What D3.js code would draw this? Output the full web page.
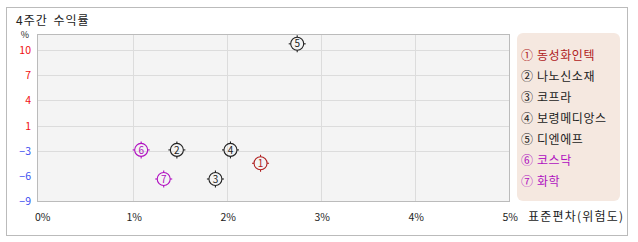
<!DOCTYPE html>
<html>
<head>
<meta charset="utf-8">
<script src="https://cdn.jsdelivr.net/npm/d3@7"></script>
<style>
  body { margin: 0; background: #fff; }
  text { font-family: "Noto Sans CJK KR", "Noto Sans", sans-serif; }
</style>
</head>
<body>
<div id="chart"></div>
<script>
const width = 638;
const height = 242;

// data
const names = ['동성화인텍', '나노신소재', '코프라', '보령메디앙스', '디엔에프', '코스닥', '화학'];
const marks = ['①', '②', '③', '④', '⑤', '⑥', '⑦'];
const risk = [2.36, 1.47, 1.88, 2.04, 2.75, 1.09, 1.33];
const returns = [-4.2, -2.5, -6.2, -2.5, 11.0, -2.5, -6.2];
const colors = ['#b02020', '#222', '#222', '#222', '#222', '#b010c0', '#b010c0'];

const xTicks = [0, 1, 2, 3, 4, 5];
const yTicks = [10.2, 7, 3.8, 0.6, -2.6, -5.8, -9];
const yTickLabels = ['10', '7', '4', '1', '−3', '−6', '−9'];
const yGrid = [10.2, 7, 3.8, 0.6, -2.6];

const svg = d3.select('#chart').append('svg')
    .attr('width', width)
    .attr('height', height);

// outer frame
svg.append('rect')
    .attr('x', 6.5).attr('y', 7.5)
    .attr('width', 621).attr('height', 228)
    .attr('fill', '#fff')
    .attr('stroke', '#bbb');

svg.append('text')
    .attr('x', 16).attr('y', 25)
    .attr('font-size', 12)
    .attr('letter-spacing', 1)
    .attr('word-spacing', 2)
    .attr('fill', '#222')
    .text('4주간 수익률');

const plot = {left: 37, right: 509, top: 34, bottom: 201};

const x = d3.scaleLinear().domain([0, 5]).range([38.7, 508.7]);
const y = d3.scaleLinear().domain([-9, 12.25]).range([201, 34]);

svg.append('rect')
    .attr('x', plot.left + 0.5).attr('y', plot.top + 0.5)
    .attr('width', plot.right - plot.left).attr('height', plot.bottom - plot.top)
    .attr('fill', '#f4f4f4');

svg.append('g').selectAll('line')
  .data(yGrid)
  .join('line')
    .attr('x1', plot.left).attr('x2', plot.right)
    .attr('y1', d => Math.round(y(d)) + 0.5)
    .attr('y2', d => Math.round(y(d)) + 0.5)
    .attr('stroke', '#dcdcdc');

svg.append('g').selectAll('line')
  .data(xTicks.slice(1, 5))
  .join('line')
    .attr('x1', d => Math.round(x(d)) + 0.5)
    .attr('x2', d => Math.round(x(d)) + 0.5)
    .attr('y1', plot.top).attr('y2', plot.bottom)
    .attr('stroke', '#dcdcdc');

svg.append('rect')
    .attr('x', plot.left + 0.5).attr('y', plot.top + 0.5)
    .attr('width', plot.right - plot.left).attr('height', plot.bottom - plot.top)
    .attr('fill', 'none')
    .attr('stroke', '#bbb');

// y labels
svg.append('text')
    .attr('x', 25).attr('y', 38)
    .attr('text-anchor', 'middle')
    .attr('font-size', 9)
    .attr('fill', '#222')
    .text('%');

svg.append('g').selectAll('text')
  .data(yTicks)
  .join('text')
    .attr('x', 31)
    .attr('y', d => y(d) + 4)
    .attr('text-anchor', 'end')
    .attr('font-size', 10.5)
    .attr('fill', (d, i) => yTickLabels[i].startsWith('−') ? '#4050f0' : '#f01010')
    .text((d, i) => yTickLabels[i]);

// x labels
svg.append('g').selectAll('text')
  .data(xTicks)
  .join('text')
    .attr('x', d => x(d) + (d === 0 ? 4 : 1.5))
    .attr('y', 221)
    .attr('text-anchor', 'middle')
    .attr('font-size', 10.5)
    .attr('fill', '#222')
    .text(d => d + '%');

svg.append('text')
    .attr('x', 528).attr('y', 221)
    .attr('font-size', 12)
    .attr('letter-spacing', 1.2)
    .attr('fill', '#222')
    .text('표준편차(위험도)');

// points
const pts = d3.range(names.length);
const pt = svg.append('g').selectAll('g')
  .data(pts)
  .join('g')
    .attr('transform', i => `translate(${x(risk[i])},${y(returns[i])})`);

pt.append('circle')
    .attr('r', 6.5)
    .attr('fill', 'none')
    .attr('stroke', i => colors[i])
    .attr('stroke-width', 1.1);

pt.selectAll('line')
  .data(i => [[0, -1, i], [0, 1, i], [-1, 0, i], [1, 0, i]])
  .join('line')
    .attr('x1', d => d[0] * 6.5).attr('y1', d => d[1] * 6.5)
    .attr('x2', d => d[0] * 8.5).attr('y2', d => d[1] * 8.5)
    .attr('stroke', d => colors[d[2]])
    .attr('stroke-width', 1.1);

pt.append('text')
    .attr('y', 3.6)
    .attr('text-anchor', 'middle')
    .attr('font-size', 10)
    .attr('fill', i => colors[i])
    .text(i => i + 1);

// legend
svg.append('rect')
    .attr('x', 517).attr('y', 33)
    .attr('width', 103).attr('height', 168)
    .attr('rx', 6)
    .attr('fill', '#f5e8e0');

svg.append('g').selectAll('text')
  .data(pts)
  .join('text')
    .attr('x', 521)
    .attr('y', i => 59.5 + i * 21.1)
    .attr('font-size', 12)
    .attr('letter-spacing', 0.6)
    .attr('fill', i => colors[i])
    .text(i => marks[i] + ' ' + names[i]);
</script>
</body>
</html>
